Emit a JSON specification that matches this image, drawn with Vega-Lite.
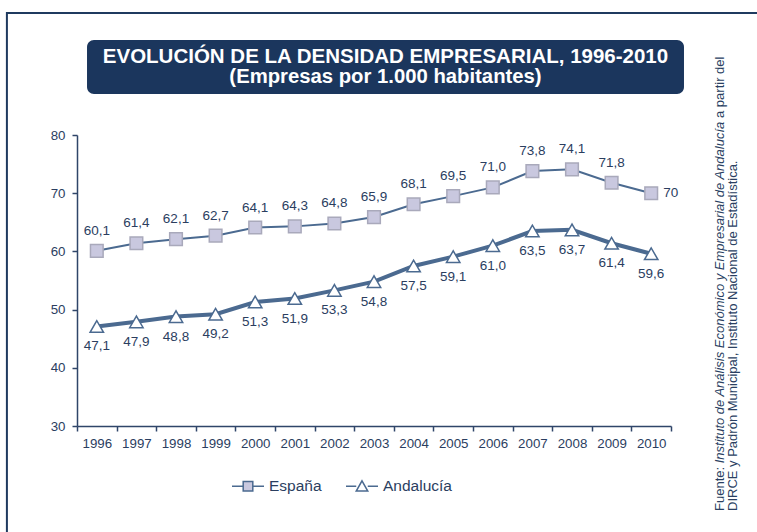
{
  "$schema": "https://vega.github.io/schema/vega-lite/v6.json",
  "width": 594,
  "height": 291,
  "autosize": {"type": "none"},
  "padding": {"left": 77, "top": 135, "right": 86, "bottom": 106},
  "background": "white",
  "config": {
    "font": "Liberation Sans",
    "view": {"stroke": null},
    "axis": {"domainColor": "#2f4569", "domainWidth": 1.5, "tickColor": "#2f4569", "tickWidth": 1.5, "tickSize": 5, "labelFontSize": 13.3, "labelColor": "#2b3e5f", "labelFont": "Liberation Sans", "grid": false, "title": null},
    "locale": {"number": {"decimal": ",", "thousands": ".", "grouping": [3], "currency": ["", " €"]}}
  },
  "data": {
    "values": [
      {"year": 1996, "serie": "España", "value": 60.1},
      {"year": 1997, "serie": "España", "value": 61.4},
      {"year": 1998, "serie": "España", "value": 62.1},
      {"year": 1999, "serie": "España", "value": 62.7},
      {"year": 2000, "serie": "España", "value": 64.1},
      {"year": 2001, "serie": "España", "value": 64.3},
      {"year": 2002, "serie": "España", "value": 64.8},
      {"year": 2003, "serie": "España", "value": 65.9},
      {"year": 2004, "serie": "España", "value": 68.1},
      {"year": 2005, "serie": "España", "value": 69.5},
      {"year": 2006, "serie": "España", "value": 71.0},
      {"year": 2007, "serie": "España", "value": 73.8},
      {"year": 2008, "serie": "España", "value": 74.1},
      {"year": 2009, "serie": "España", "value": 71.8},
      {"year": 2010, "serie": "España", "value": 70.0},
      {"year": 1996, "serie": "Andalucía", "value": 47.1},
      {"year": 1997, "serie": "Andalucía", "value": 47.9},
      {"year": 1998, "serie": "Andalucía", "value": 48.8},
      {"year": 1999, "serie": "Andalucía", "value": 49.2},
      {"year": 2000, "serie": "Andalucía", "value": 51.3},
      {"year": 2001, "serie": "Andalucía", "value": 51.9},
      {"year": 2002, "serie": "Andalucía", "value": 53.3},
      {"year": 2003, "serie": "Andalucía", "value": 54.8},
      {"year": 2004, "serie": "Andalucía", "value": 57.5},
      {"year": 2005, "serie": "Andalucía", "value": 59.1},
      {"year": 2006, "serie": "Andalucía", "value": 61.0},
      {"year": 2007, "serie": "Andalucía", "value": 63.5},
      {"year": 2008, "serie": "Andalucía", "value": 63.7},
      {"year": 2009, "serie": "Andalucía", "value": 61.4},
      {"year": 2010, "serie": "Andalucía", "value": 59.6}
    ]
  },
  "layer": [
    {
      "transform": [{"filter": "datum.serie == 'España'"}],
      "mark": {"type": "line", "color": "#4b6a90", "strokeWidth": 2},
      "encoding": {
        "x": {"field": "year", "type": "quantitative", "scale": {"domain": [1995.5, 2010.5], "nice": false, "zero": false},
          "axis": {"title": null, "values": [1995.5, 1996.5, 1997.5, 1998.5, 1999.5, 2000.5, 2001.5, 2002.5, 2003.5, 2004.5, 2005.5, 2006.5, 2007.5, 2008.5, 2009.5, 2010.5], "labelExpr": "datum.value > 2010 ? '' : format(datum.value + 0.5, 'd')", "labelOffset": 19.8, "labelOverlap": false, "labelFlush": false, "labelBound": false, "labelPadding": 5}},
        "y": {"field": "value", "type": "quantitative", "scale": {"domain": [30, 80], "nice": false, "zero": false},
          "axis": {"title": null, "values": [30, 40, 50, 60, 70, 80], "labelPadding": 7}}
      }
    },
    {
      "transform": [{"filter": "datum.serie == 'Andalucía'"}],
      "mark": {"type": "line", "color": "#4b6a90", "strokeWidth": 4},
      "encoding": {
        "x": {"field": "year", "type": "quantitative", "scale": {"domain": [1995.5, 2010.5], "nice": false, "zero": false},
          "axis": {"title": null, "values": [1995.5, 1996.5, 1997.5, 1998.5, 1999.5, 2000.5, 2001.5, 2002.5, 2003.5, 2004.5, 2005.5, 2006.5, 2007.5, 2008.5, 2009.5, 2010.5], "labelExpr": "datum.value > 2010 ? '' : format(datum.value + 0.5, 'd')", "labelOffset": 19.8, "labelOverlap": false, "labelFlush": false, "labelBound": false, "labelPadding": 5}},
        "y": {"field": "value", "type": "quantitative", "scale": {"domain": [30, 80], "nice": false, "zero": false},
          "axis": {"title": null, "values": [30, 40, 50, 60, 70, 80], "labelPadding": 7}}
      }
    },
    {
      "transform": [{"filter": "datum.serie == 'España'"}],
      "mark": {"type": "point", "shape": "square", "filled": true, "fill": "#c9c8df", "stroke": "#a9a9bb", "strokeWidth": 1.5, "size": 160, "opacity": 1},
      "encoding": {
        "x": {"field": "year", "type": "quantitative", "scale": {"domain": [1995.5, 2010.5], "nice": false, "zero": false},
          "axis": {"title": null, "values": [1995.5, 1996.5, 1997.5, 1998.5, 1999.5, 2000.5, 2001.5, 2002.5, 2003.5, 2004.5, 2005.5, 2006.5, 2007.5, 2008.5, 2009.5, 2010.5], "labelExpr": "datum.value > 2010 ? '' : format(datum.value + 0.5, 'd')", "labelOffset": 19.8, "labelOverlap": false, "labelFlush": false, "labelBound": false, "labelPadding": 5}},
        "y": {"field": "value", "type": "quantitative", "scale": {"domain": [30, 80], "nice": false, "zero": false},
          "axis": {"title": null, "values": [30, 40, 50, 60, 70, 80], "labelPadding": 7}}
      }
    },
    {
      "transform": [{"filter": "datum.serie == 'Andalucía'"}],
      "mark": {"type": "point", "shape": "triangle-up", "filled": true, "fill": "#ffffff", "stroke": "#4b6a90", "strokeWidth": 1.5, "size": 180, "opacity": 1},
      "encoding": {
        "x": {"field": "year", "type": "quantitative", "scale": {"domain": [1995.5, 2010.5], "nice": false, "zero": false},
          "axis": {"title": null, "values": [1995.5, 1996.5, 1997.5, 1998.5, 1999.5, 2000.5, 2001.5, 2002.5, 2003.5, 2004.5, 2005.5, 2006.5, 2007.5, 2008.5, 2009.5, 2010.5], "labelExpr": "datum.value > 2010 ? '' : format(datum.value + 0.5, 'd')", "labelOffset": 19.8, "labelOverlap": false, "labelFlush": false, "labelBound": false, "labelPadding": 5}},
        "y": {"field": "value", "type": "quantitative", "scale": {"domain": [30, 80], "nice": false, "zero": false},
          "axis": {"title": null, "values": [30, 40, 50, 60, 70, 80], "labelPadding": 7}}
      }
    },
    {
      "transform": [{"filter": "datum.serie == 'España' && datum.year < 2010"}],
      "mark": {"type": "text", "dy": -20, "fontSize": 13.5, "color": "#2b3e5f", "align": "center", "baseline": "middle"},
      "encoding": {
        "x": {"field": "year", "type": "quantitative", "scale": {"domain": [1995.5, 2010.5], "nice": false, "zero": false},
          "axis": {"title": null, "values": [1995.5, 1996.5, 1997.5, 1998.5, 1999.5, 2000.5, 2001.5, 2002.5, 2003.5, 2004.5, 2005.5, 2006.5, 2007.5, 2008.5, 2009.5, 2010.5], "labelExpr": "datum.value > 2010 ? '' : format(datum.value + 0.5, 'd')", "labelOffset": 19.8, "labelOverlap": false, "labelFlush": false, "labelBound": false, "labelPadding": 5}},
        "y": {"field": "value", "type": "quantitative", "scale": {"domain": [30, 80], "nice": false, "zero": false},
          "axis": {"title": null, "values": [30, 40, 50, 60, 70, 80], "labelPadding": 7}},
        "text": {"field": "value", "type": "quantitative", "format": ".1f"}
      }
    },
    {
      "transform": [{"filter": "datum.serie == 'España' && datum.year == 2010"}],
      "mark": {"type": "text", "dx": 12, "fontSize": 13.5, "color": "#2b3e5f", "align": "left", "baseline": "middle"},
      "encoding": {
        "x": {"field": "year", "type": "quantitative", "scale": {"domain": [1995.5, 2010.5], "nice": false, "zero": false},
          "axis": {"title": null, "values": [1995.5, 1996.5, 1997.5, 1998.5, 1999.5, 2000.5, 2001.5, 2002.5, 2003.5, 2004.5, 2005.5, 2006.5, 2007.5, 2008.5, 2009.5, 2010.5], "labelExpr": "datum.value > 2010 ? '' : format(datum.value + 0.5, 'd')", "labelOffset": 19.8, "labelOverlap": false, "labelFlush": false, "labelBound": false, "labelPadding": 5}},
        "y": {"field": "value", "type": "quantitative", "scale": {"domain": [30, 80], "nice": false, "zero": false},
          "axis": {"title": null, "values": [30, 40, 50, 60, 70, 80], "labelPadding": 7}},
        "text": {"field": "value", "type": "quantitative", "format": ".0f"}
      }
    },
    {
      "transform": [{"filter": "datum.serie == 'Andalucía'"}],
      "mark": {"type": "text", "dy": 20, "fontSize": 13.5, "color": "#2b3e5f", "align": "center", "baseline": "middle"},
      "encoding": {
        "x": {"field": "year", "type": "quantitative", "scale": {"domain": [1995.5, 2010.5], "nice": false, "zero": false},
          "axis": {"title": null, "values": [1995.5, 1996.5, 1997.5, 1998.5, 1999.5, 2000.5, 2001.5, 2002.5, 2003.5, 2004.5, 2005.5, 2006.5, 2007.5, 2008.5, 2009.5, 2010.5], "labelExpr": "datum.value > 2010 ? '' : format(datum.value + 0.5, 'd')", "labelOffset": 19.8, "labelOverlap": false, "labelFlush": false, "labelBound": false, "labelPadding": 5}},
        "y": {"field": "value", "type": "quantitative", "scale": {"domain": [30, 80], "nice": false, "zero": false},
          "axis": {"title": null, "values": [30, 40, 50, 60, 70, 80], "labelPadding": 7}},
        "text": {"field": "value", "type": "quantitative", "format": ".1f"}
      }
    },
    {
      "transform": [{"filter": "false"}],
      "mark": {"type": "point", "filled": true, "stroke": "#4b6a90", "strokeWidth": 2, "opacity": 1},
      "encoding": {
        "x": {"field": "year", "type": "quantitative", "scale": {"domain": [1995.5, 2010.5], "nice": false, "zero": false},
          "axis": {"title": null, "values": [1995.5, 1996.5, 1997.5, 1998.5, 1999.5, 2000.5, 2001.5, 2002.5, 2003.5, 2004.5, 2005.5, 2006.5, 2007.5, 2008.5, 2009.5, 2010.5], "labelExpr": "datum.value > 2010 ? '' : format(datum.value + 0.5, 'd')", "labelOffset": 19.8, "labelOverlap": false, "labelFlush": false, "labelBound": false, "labelPadding": 5}},
        "y": {"field": "value", "type": "quantitative", "scale": {"domain": [30, 80], "nice": false, "zero": false},
          "axis": {"title": null, "values": [30, 40, 50, 60, 70, 80], "labelPadding": 7}},
        "shape": {
          "field": "serie", "type": "nominal",
          "scale": {"domain": ["España", "Andalucía"], "range": ["M-1,0H-0.3M0.3,0H1M-0.3,-0.3H0.3V0.3H-0.3Z", "M-1,0H-0.36M0.36,0H1M0,-0.34L0.36,0.3H-0.36Z"]},
          "legend": {"title": null, "orient": "none", "direction": "horizontal", "legendX": 154, "legendY": 334, "padding": 0, "symbolSize": 1024, "labelFontSize": 15.5, "labelColor": "#2b3e5f", "labelFont": "Liberation Sans", "labelOffset": 4, "columnPadding": 21,
            "encode": {"symbols": {"update": {"stroke": {"value": "#4b6a90"}, "strokeWidth": {"value": 2}, "opacity": {"value": 1}}}}}
        },
        "fill": {
          "field": "serie", "type": "nominal",
          "scale": {"domain": ["España", "Andalucía"], "range": ["#c9c8df", "#ffffff"]},
          "legend": {"title": null, "orient": "none", "direction": "horizontal", "legendX": 154, "legendY": 334, "padding": 0, "symbolSize": 1024, "labelFontSize": 15.5, "labelColor": "#2b3e5f", "labelFont": "Liberation Sans", "labelOffset": 4, "columnPadding": 21,
            "encode": {"symbols": {"update": {"stroke": {"value": "#4b6a90"}, "strokeWidth": {"value": 2}, "opacity": {"value": 1}}}}}
        }
      }
    },
    {
      "data": {"values": [{}]},
      "mark": {"type": "rect", "fillOpacity": 0, "stroke": "#1f3a5f", "strokeWidth": 2},
      "encoding": {
        "x": {"datum": 1993.73, "type": "quantitative", "scale": {"domain": [1995.5, 2010.5], "nice": false, "zero": false},
          "axis": {"title": null, "values": [1995.5, 1996.5, 1997.5, 1998.5, 1999.5, 2000.5, 2001.5, 2002.5, 2003.5, 2004.5, 2005.5, 2006.5, 2007.5, 2008.5, 2009.5, 2010.5], "labelExpr": "datum.value > 2010 ? '' : format(datum.value + 0.5, 'd')", "labelOffset": 19.8, "labelOverlap": false, "labelFlush": false, "labelBound": false, "labelPadding": 5}},
        "x2": {"datum": 2015},
        "y": {"datum": 100.96, "type": "quantitative", "scale": {"domain": [30, 80], "nice": false, "zero": false},
          "axis": {"title": null, "values": [30, 40, 50, 60, 70, 80], "labelPadding": 7}},
        "y2": {"datum": 0}
      }
    },
    {
      "data": {"values": [{}]},
      "mark": {"type": "rect", "fill": "#1b365d", "cornerRadius": 7},
      "encoding": {
        "x": {"datum": 1995.753, "type": "quantitative", "scale": {"domain": [1995.5, 2010.5], "nice": false, "zero": false},
          "axis": {"title": null, "values": [1995.5, 1996.5, 1997.5, 1998.5, 1999.5, 2000.5, 2001.5, 2002.5, 2003.5, 2004.5, 2005.5, 2006.5, 2007.5, 2008.5, 2009.5, 2010.5], "labelExpr": "datum.value > 2010 ? '' : format(datum.value + 0.5, 'd')", "labelOffset": 19.8, "labelOverlap": false, "labelFlush": false, "labelBound": false, "labelPadding": 5}},
        "x2": {"datum": 2010.828},
        "y": {"datum": 96.32, "type": "quantitative", "scale": {"domain": [30, 80], "nice": false, "zero": false},
          "axis": {"title": null, "values": [30, 40, 50, 60, 70, 80], "labelPadding": 7}},
        "y2": {"datum": 87.04}
      }
    },
    {
      "data": {"values": [{"t1": "EVOLUCIÓN DE LA DENSIDAD EMPRESARIAL, 1996-2010", "t2": "(Empresas por 1.000 habitantes)", "s1": "Fuente:", "s2": "Instituto de Análisis Económico y Empresarial de Andalucía", "s3": "a partir del", "s4": "DIRCE y Padrón Municipal, Instituto Nacional de Estadística."}]},
      "layer": [
        {
          "mark": {"type": "text", "fontWeight": "bold", "fontSize": 20.5, "color": "white", "align": "center", "baseline": "middle"},
          "encoding": {
            "x": {"datum": 2003.29, "type": "quantitative", "scale": {"domain": [1995.5, 2010.5], "nice": false, "zero": false},
              "axis": {"title": null, "values": [1995.5, 1996.5, 1997.5, 1998.5, 1999.5, 2000.5, 2001.5, 2002.5, 2003.5, 2004.5, 2005.5, 2006.5, 2007.5, 2008.5, 2009.5, 2010.5], "labelExpr": "datum.value > 2010 ? '' : format(datum.value + 0.5, 'd')", "labelOffset": 19.8, "labelOverlap": false, "labelFlush": false, "labelBound": false, "labelPadding": 5}},
            "y": {"datum": 93.4, "type": "quantitative", "scale": {"domain": [30, 80], "nice": false, "zero": false},
              "axis": {"title": null, "values": [30, 40, 50, 60, 70, 80], "labelPadding": 7}},
            "text": {"field": "t1"}
          }
        },
        {
          "mark": {"type": "text", "fontWeight": "bold", "fontSize": 20.3, "color": "white", "align": "center", "baseline": "middle"},
          "encoding": {
            "x": {"datum": 2003.29, "type": "quantitative", "scale": {"domain": [1995.5, 2010.5], "nice": false, "zero": false},
              "axis": {"title": null, "values": [1995.5, 1996.5, 1997.5, 1998.5, 1999.5, 2000.5, 2001.5, 2002.5, 2003.5, 2004.5, 2005.5, 2006.5, 2007.5, 2008.5, 2009.5, 2010.5], "labelExpr": "datum.value > 2010 ? '' : format(datum.value + 0.5, 'd')", "labelOffset": 19.8, "labelOverlap": false, "labelFlush": false, "labelBound": false, "labelPadding": 5}},
            "y": {"datum": 89.97, "type": "quantitative", "scale": {"domain": [30, 80], "nice": false, "zero": false},
              "axis": {"title": null, "values": [30, 40, 50, 60, 70, 80], "labelPadding": 7}},
            "text": {"field": "t2"}
          }
        },
        {
          "mark": {"type": "text", "angle": 270, "fontSize": 13, "color": "#2a3f62", "align": "left", "baseline": "middle"},
          "encoding": {
            "x": {"datum": 2011.737, "type": "quantitative", "scale": {"domain": [1995.5, 2010.5], "nice": false, "zero": false},
              "axis": {"title": null, "values": [1995.5, 1996.5, 1997.5, 1998.5, 1999.5, 2000.5, 2001.5, 2002.5, 2003.5, 2004.5, 2005.5, 2006.5, 2007.5, 2008.5, 2009.5, 2010.5], "labelExpr": "datum.value > 2010 ? '' : format(datum.value + 0.5, 'd')", "labelOffset": 19.8, "labelOverlap": false, "labelFlush": false, "labelBound": false, "labelPadding": 5}},
            "y": {"datum": 15.4, "type": "quantitative", "scale": {"domain": [30, 80], "nice": false, "zero": false},
              "axis": {"title": null, "values": [30, 40, 50, 60, 70, 80], "labelPadding": 7}},
            "text": {"field": "s1"}
          }
        },
        {
          "mark": {"type": "text", "angle": 270, "fontSize": 13, "fontStyle": "italic", "color": "#2a3f62", "align": "left", "baseline": "middle"},
          "encoding": {
            "x": {"datum": 2011.737, "type": "quantitative", "scale": {"domain": [1995.5, 2010.5], "nice": false, "zero": false},
              "axis": {"title": null, "values": [1995.5, 1996.5, 1997.5, 1998.5, 1999.5, 2000.5, 2001.5, 2002.5, 2003.5, 2004.5, 2005.5, 2006.5, 2007.5, 2008.5, 2009.5, 2010.5], "labelExpr": "datum.value > 2010 ? '' : format(datum.value + 0.5, 'd')", "labelOffset": 19.8, "labelOverlap": false, "labelFlush": false, "labelBound": false, "labelPadding": 5}},
            "y": {"datum": 23.59, "type": "quantitative", "scale": {"domain": [30, 80], "nice": false, "zero": false},
              "axis": {"title": null, "values": [30, 40, 50, 60, 70, 80], "labelPadding": 7}},
            "text": {"field": "s2"}
          }
        },
        {
          "mark": {"type": "text", "angle": 270, "fontSize": 13, "color": "#2a3f62", "align": "left", "baseline": "middle"},
          "encoding": {
            "x": {"datum": 2011.737, "type": "quantitative", "scale": {"domain": [1995.5, 2010.5], "nice": false, "zero": false},
              "axis": {"title": null, "values": [1995.5, 1996.5, 1997.5, 1998.5, 1999.5, 2000.5, 2001.5, 2002.5, 2003.5, 2004.5, 2005.5, 2006.5, 2007.5, 2008.5, 2009.5, 2010.5], "labelExpr": "datum.value > 2010 ? '' : format(datum.value + 0.5, 'd')", "labelOffset": 19.8, "labelOverlap": false, "labelFlush": false, "labelBound": false, "labelPadding": 5}},
            "y": {"datum": 82.92, "type": "quantitative", "scale": {"domain": [30, 80], "nice": false, "zero": false},
              "axis": {"title": null, "values": [30, 40, 50, 60, 70, 80], "labelPadding": 7}},
            "text": {"field": "s3"}
          }
        },
        {
          "mark": {"type": "text", "angle": 270, "fontSize": 13, "color": "#2a3f62", "align": "left", "baseline": "middle"},
          "encoding": {
            "x": {"datum": 2012.078, "type": "quantitative", "scale": {"domain": [1995.5, 2010.5], "nice": false, "zero": false},
              "axis": {"title": null, "values": [1995.5, 1996.5, 1997.5, 1998.5, 1999.5, 2000.5, 2001.5, 2002.5, 2003.5, 2004.5, 2005.5, 2006.5, 2007.5, 2008.5, 2009.5, 2010.5], "labelExpr": "datum.value > 2010 ? '' : format(datum.value + 0.5, 'd')", "labelOffset": 19.8, "labelOverlap": false, "labelFlush": false, "labelBound": false, "labelPadding": 5}},
            "y": {"datum": 15.4, "type": "quantitative", "scale": {"domain": [30, 80], "nice": false, "zero": false},
              "axis": {"title": null, "values": [30, 40, 50, 60, 70, 80], "labelPadding": 7}},
            "text": {"field": "s4"}
          }
        }
      ]
    }
  ]
}
